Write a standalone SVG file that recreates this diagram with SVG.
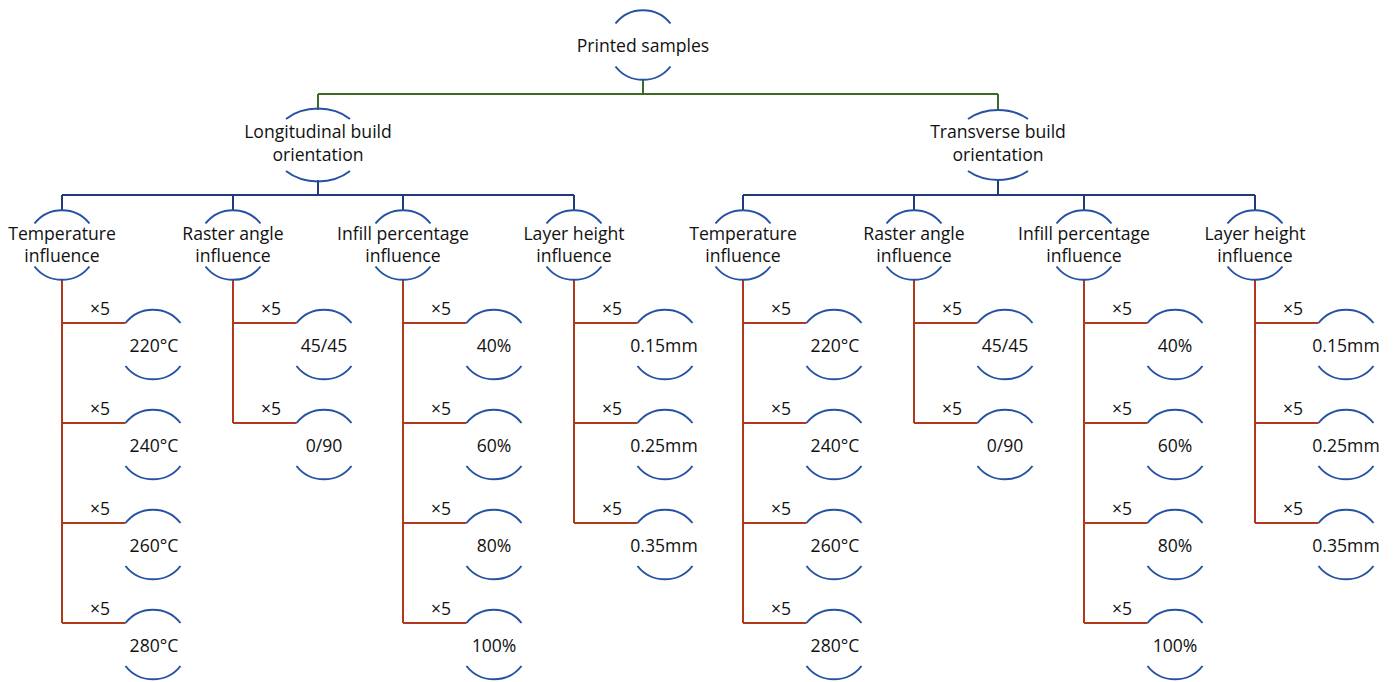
<svg xmlns="http://www.w3.org/2000/svg" width="1395" height="682" viewBox="0 0 1395 682">
<style>
.arc{fill:none;stroke:#2652a3;stroke-width:2}
.g{fill:none;stroke:#3b6b26;stroke-width:2}
.b{fill:none;stroke:#1f3b7c;stroke-width:2}
.r{fill:none;stroke:#b0391c;stroke-width:2}
text{font-family:"Open Sans","Liberation Sans",sans-serif;font-size:17.6px;fill:#111;text-anchor:middle}
</style>
<rect width="1395" height="682" fill="#fff"/>
<g id="connectors">
<path class="g" d="M643,80V94M318,94H998M318,94V110M998,94V110"/>
<path class="b" d="M318,180V195M62,195H574M62,195V210M233,195V210M403,195V210M574,195V210"/>
<path class="b" d="M998,180V195M743,195H1255M743,195V210M914,195V210M1084,195V210M1255,195V210"/>
<path class="r" d="M62,280V623M62,323H125.5M62,423H125.5M62,523H125.5M62,623H125.5"/>
<path class="r" d="M233,280V423M233,323H296.5M233,423H296.5"/>
<path class="r" d="M403,280V623M403,323H466.5M403,423H466.5M403,523H466.5M403,623H466.5"/>
<path class="r" d="M574,280V523M574,323H637.5M574,423H637.5M574,523H637.5"/>
<path class="r" d="M743,280V623M743,323H806.5M743,423H806.5M743,523H806.5M743,623H806.5"/>
<path class="r" d="M914,280V423M914,323H977.5M914,423H977.5"/>
<path class="r" d="M1084,280V623M1084,323H1147.5M1084,423H1147.5M1084,523H1147.5M1084,623H1147.5"/>
<path class="r" d="M1255,280V523M1255,323H1318.5M1255,423H1318.5M1255,523H1318.5"/>
<g id="mult-labels">
<text x="100" y="315">×5</text><text x="100" y="415">×5</text><text x="100" y="515">×5</text><text x="100" y="615">×5</text>
<text x="271" y="315">×5</text><text x="271" y="415">×5</text>
<text x="441" y="315">×5</text><text x="441" y="415">×5</text><text x="441" y="515">×5</text><text x="441" y="615">×5</text>
<text x="612" y="315">×5</text><text x="612" y="415">×5</text><text x="612" y="515">×5</text>
<text x="781" y="315">×5</text><text x="781" y="415">×5</text><text x="781" y="515">×5</text><text x="781" y="615">×5</text>
<text x="952" y="315">×5</text><text x="952" y="415">×5</text>
<text x="1122" y="315">×5</text><text x="1122" y="415">×5</text><text x="1122" y="515">×5</text><text x="1122" y="615">×5</text>
<text x="1293" y="315">×5</text><text x="1293" y="415">×5</text><text x="1293" y="515">×5</text>
</g>
</g>

<g id="n-root"><path class="arc" d="M615.5,23.5A35,35 0 0 1 670.5,23.5M615.5,66.5A35,35 0 0 0 670.5,66.5"/><text x="643" y="52">Printed samples</text></g>

<g id="n-long"><path class="arc" d="M286,119A45,35 0 0 1 350,119M286,171A45,35 0 0 0 350,171"/><text x="318" y="138">Longitudinal build</text><text x="318" y="161">orientation</text></g>
<g id="n-trans"><path class="arc" d="M968,119A45,35 0 0 1 1028,119M968,171A45,35 0 0 0 1028,171"/><text x="998" y="138">Transverse build</text><text x="998" y="161">orientation</text></g>

<g id="n-l-temp"><path class="arc" d="M34.5,223.5A35,35 0 0 1 89.5,223.5M34.5,266.5A35,35 0 0 0 89.5,266.5"/><text x="62" y="240">Temperature</text><text x="62" y="262">influence</text></g>
<g id="n-l-raster"><path class="arc" d="M205.5,223.5A35,35 0 0 1 260.5,223.5M205.5,266.5A35,35 0 0 0 260.5,266.5"/><text x="233" y="240">Raster angle</text><text x="233" y="262">influence</text></g>
<g id="n-l-infill"><path class="arc" d="M375.5,223.5A35,35 0 0 1 430.5,223.5M375.5,266.5A35,35 0 0 0 430.5,266.5"/><text x="403" y="240">Infill percentage</text><text x="403" y="262">influence</text></g>
<g id="n-l-layer"><path class="arc" d="M546.5,223.5A35,35 0 0 1 601.5,223.5M546.5,266.5A35,35 0 0 0 601.5,266.5"/><text x="574" y="240">Layer height</text><text x="574" y="262">influence</text></g>
<g id="n-t-temp"><path class="arc" d="M715.5,223.5A35,35 0 0 1 770.5,223.5M715.5,266.5A35,35 0 0 0 770.5,266.5"/><text x="743" y="240">Temperature</text><text x="743" y="262">influence</text></g>
<g id="n-t-raster"><path class="arc" d="M886.5,223.5A35,35 0 0 1 941.5,223.5M886.5,266.5A35,35 0 0 0 941.5,266.5"/><text x="914" y="240">Raster angle</text><text x="914" y="262">influence</text></g>
<g id="n-t-infill"><path class="arc" d="M1056.5,223.5A35,35 0 0 1 1111.5,223.5M1056.5,266.5A35,35 0 0 0 1111.5,266.5"/><text x="1084" y="240">Infill percentage</text><text x="1084" y="262">influence</text></g>
<g id="n-t-layer"><path class="arc" d="M1227.5,223.5A35,35 0 0 1 1282.5,223.5M1227.5,266.5A35,35 0 0 0 1282.5,266.5"/><text x="1255" y="240">Layer height</text><text x="1255" y="262">influence</text></g>

<g id="leaf-l-t220"><path class="arc" d="M125.5,323A35,35 0 0 1 180.5,323M125.5,366A35,35 0 0 0 180.5,366"/><text x="154" y="352">220°C</text></g>
<g id="leaf-l-t240"><path class="arc" d="M125.5,423A35,35 0 0 1 180.5,423M125.5,466A35,35 0 0 0 180.5,466"/><text x="154" y="452">240°C</text></g>
<g id="leaf-l-t260"><path class="arc" d="M125.5,523A35,35 0 0 1 180.5,523M125.5,566A35,35 0 0 0 180.5,566"/><text x="154" y="552">260°C</text></g>
<g id="leaf-l-t280"><path class="arc" d="M125.5,623A35,35 0 0 1 180.5,623M125.5,666A35,35 0 0 0 180.5,666"/><text x="154" y="652">280°C</text></g>
<g id="leaf-l-r4545"><path class="arc" d="M296.5,323A35,35 0 0 1 351.5,323M296.5,366A35,35 0 0 0 351.5,366"/><text x="324" y="352">45/45</text></g>
<g id="leaf-l-r090"><path class="arc" d="M296.5,423A35,35 0 0 1 351.5,423M296.5,466A35,35 0 0 0 351.5,466"/><text x="324" y="452">0/90</text></g>
<g id="leaf-l-i40"><path class="arc" d="M466.5,323A35,35 0 0 1 521.5,323M466.5,366A35,35 0 0 0 521.5,366"/><text x="494" y="352">40%</text></g>
<g id="leaf-l-i60"><path class="arc" d="M466.5,423A35,35 0 0 1 521.5,423M466.5,466A35,35 0 0 0 521.5,466"/><text x="494" y="452">60%</text></g>
<g id="leaf-l-i80"><path class="arc" d="M466.5,523A35,35 0 0 1 521.5,523M466.5,566A35,35 0 0 0 521.5,566"/><text x="494" y="552">80%</text></g>
<g id="leaf-l-i100"><path class="arc" d="M466.5,623A35,35 0 0 1 521.5,623M466.5,666A35,35 0 0 0 521.5,666"/><text x="494" y="652">100%</text></g>
<g id="leaf-l-h015"><path class="arc" d="M637.5,323A35,35 0 0 1 692.5,323M637.5,366A35,35 0 0 0 692.5,366"/><text x="664" y="352">0.15mm</text></g>
<g id="leaf-l-h025"><path class="arc" d="M637.5,423A35,35 0 0 1 692.5,423M637.5,466A35,35 0 0 0 692.5,466"/><text x="664" y="452">0.25mm</text></g>
<g id="leaf-l-h035"><path class="arc" d="M637.5,523A35,35 0 0 1 692.5,523M637.5,566A35,35 0 0 0 692.5,566"/><text x="664" y="552">0.35mm</text></g>

<g id="leaf-t-t220"><path class="arc" d="M806.5,323A35,35 0 0 1 861.5,323M806.5,366A35,35 0 0 0 861.5,366"/><text x="835" y="352">220°C</text></g>
<g id="leaf-t-t240"><path class="arc" d="M806.5,423A35,35 0 0 1 861.5,423M806.5,466A35,35 0 0 0 861.5,466"/><text x="835" y="452">240°C</text></g>
<g id="leaf-t-t260"><path class="arc" d="M806.5,523A35,35 0 0 1 861.5,523M806.5,566A35,35 0 0 0 861.5,566"/><text x="835" y="552">260°C</text></g>
<g id="leaf-t-t280"><path class="arc" d="M806.5,623A35,35 0 0 1 861.5,623M806.5,666A35,35 0 0 0 861.5,666"/><text x="835" y="652">280°C</text></g>
<g id="leaf-t-r4545"><path class="arc" d="M977.5,323A35,35 0 0 1 1032.5,323M977.5,366A35,35 0 0 0 1032.5,366"/><text x="1005" y="352">45/45</text></g>
<g id="leaf-t-r090"><path class="arc" d="M977.5,423A35,35 0 0 1 1032.5,423M977.5,466A35,35 0 0 0 1032.5,466"/><text x="1005" y="452">0/90</text></g>
<g id="leaf-t-i40"><path class="arc" d="M1147.5,323A35,35 0 0 1 1202.5,323M1147.5,366A35,35 0 0 0 1202.5,366"/><text x="1175" y="352">40%</text></g>
<g id="leaf-t-i60"><path class="arc" d="M1147.5,423A35,35 0 0 1 1202.5,423M1147.5,466A35,35 0 0 0 1202.5,466"/><text x="1175" y="452">60%</text></g>
<g id="leaf-t-i80"><path class="arc" d="M1147.5,523A35,35 0 0 1 1202.5,523M1147.5,566A35,35 0 0 0 1202.5,566"/><text x="1175" y="552">80%</text></g>
<g id="leaf-t-i100"><path class="arc" d="M1147.5,623A35,35 0 0 1 1202.5,623M1147.5,666A35,35 0 0 0 1202.5,666"/><text x="1175" y="652">100%</text></g>
<g id="leaf-t-h015"><path class="arc" d="M1318.5,323A35,35 0 0 1 1373.5,323M1318.5,366A35,35 0 0 0 1373.5,366"/><text x="1346" y="352">0.15mm</text></g>
<g id="leaf-t-h025"><path class="arc" d="M1318.5,423A35,35 0 0 1 1373.5,423M1318.5,466A35,35 0 0 0 1373.5,466"/><text x="1346" y="452">0.25mm</text></g>
<g id="leaf-t-h035"><path class="arc" d="M1318.5,523A35,35 0 0 1 1373.5,523M1318.5,566A35,35 0 0 0 1373.5,566"/><text x="1346" y="552">0.35mm</text></g>
</svg>
